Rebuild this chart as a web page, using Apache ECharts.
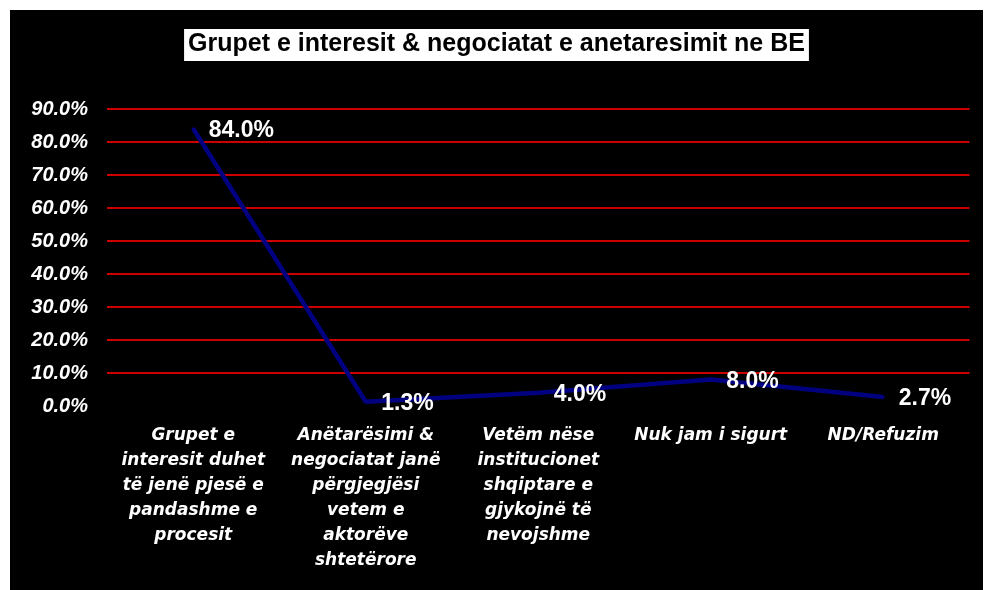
<!DOCTYPE html>
<html>
<head>
<meta charset="utf-8">
<script src="https://cdn.jsdelivr.net/npm/echarts@6/dist/echarts.min.js"></script>
<style>
  html, body { margin: 0; padding: 0; background: #ffffff; }
  #chart { position: absolute; left: 10px; top: 10px; width: 973px; height: 580px; background: #000000; }
</style>
</head>
<body>
<div id="chart"></div>
<script>
const titleText = 'Grupet e interesit & negociatat e anetaresimit ne BE';
const categories = [
  'Grupet e\ninteresit duhet\ntë jenë pjesë e\npandashme e\nprocesit',
  'Anëtarësimi &\nnegociatat janë\npërgjegjësi\nvetem e\naktorëve\nshtetërore',
  'Vetëm nëse\ninstitucionet\nshqiptare e\ngjykojnë të\nnevojshme',
  'Nuk jam i sigurt',
  'ND/Refuzim'
];
const values = [84.0, 1.3, 4.0, 8.0, 2.7];
const yTicks = [0, 10, 20, 30, 40, 50, 60, 70, 80, 90];

const chart = echarts.init(document.getElementById('chart'), null, { renderer: 'canvas' });
const font = '"Liberation Sans", Arial, sans-serif';
const wideFont = '"DejaVu Sans", sans-serif';
const gridColors = yTicks.map(v => v === 0 ? 'rgba(0,0,0,0)' : '#cc0000');

chart.setOption({
  backgroundColor: '#000000',
  animation: false,
  title: {
    text: titleText,
    left: 'center',
    top: 19,
    backgroundColor: '#ffffff',
    padding: [3, 4, 4, 4],
    textStyle: { color: '#000000', fontFamily: font, fontSize: 25, fontWeight: 'bold' }
  },
  grid: { left: 97, right: 13.5, top: 99, bottom: 184, containLabel: false },
  xAxis: {
    type: 'category',
    data: categories,
    boundaryGap: true,
    axisLine: { show: false },
    axisTick: { show: false },
    axisLabel: {
      color: '#ffffff', fontFamily: wideFont, fontSize: 17, fontWeight: 'bold', fontStyle: 'italic',
      lineHeight: 25, margin: 17, interval: 0, align: 'center', verticalAlign: 'top'
    },
    splitLine: { show: false }
  },
  yAxis: {
    type: 'value',
    min: 0, max: 90, interval: 10,
    axisLine: { show: false },
    axisTick: { show: false },
    axisLabel: {
      color: '#ffffff', fontFamily: font, fontSize: 20, fontWeight: 'bold', fontStyle: 'italic',
      margin: 19, formatter: v => v.toFixed(1) + '%'
    },
    splitLine: { show: true, lineStyle: { color: gridColors, width: 2 } }
  },
  series: [{
    type: 'line',
    data: values,
    showSymbol: true,
    symbol: 'circle',
    symbolSize: 3,
    itemStyle: { color: '#000080' },
    lineStyle: { color: '#000080', width: 4.5 },
    label: {
      show: true, position: 'right', distance: 14, offset: [0, 2],
      color: '#ffffff', fontFamily: font, fontSize: 23, fontWeight: 'bold',
      formatter: p => p.value.toFixed(1) + '%'
    }
  }]
});
</script>
</body>
</html>
